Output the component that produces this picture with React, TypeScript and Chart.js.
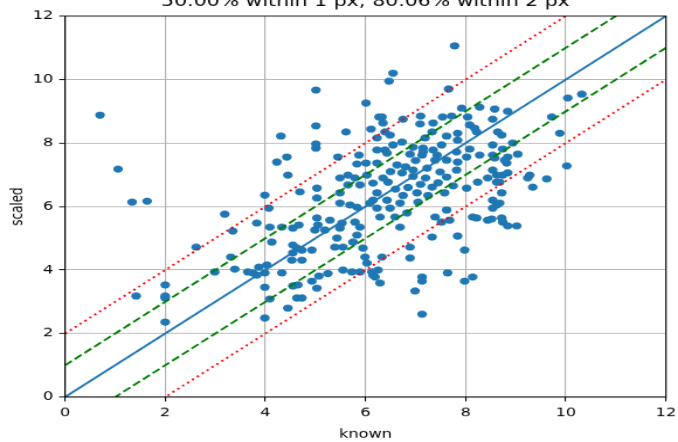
import React, { useEffect, useRef } from "react";
import { Chart, registerables } from "chart.js";

Chart.register(...registerables);

// ---- data ----
const known: number[] = [
  0.70, 1.06, 1.34, 1.64, 1.42, 2.00, 2.00, 2.00, 2.00, 2.62, 3.19, 3.35, 3.83, 3.31, 2.99, 3.39, 3.65, 3.83, 3.87,
  5.01, 6.01, 5.01, 4.31, 5.61, 6.11, 6.27, 5.01, 5.01, 4.43, 4.23, 5.45, 5.87, 5.83, 6.01, 6.23,
  7.78, 6.55, 6.47, 7.66, 7.92, 8.28, 8.58, 8.84, 6.33, 6.75, 7.10, 7.54, 7.72, 8.04, 8.54, 7.09, 7.35, 6.35, 6.39,
  6.73, 6.23, 6.49, 7.33, 7.62, 7.84, 7.84, 8.08, 8.18, 8.22, 8.64, 8.54, 7.19, 7.52, 6.95, 7.15, 7.35, 6.39, 6.55,
  6.89, 7.13, 7.43, 7.82, 8.08, 8.74, 8.54, 8.84, 6.43, 7.15, 7.39, 7.62, 7.84, 8.02, 8.28, 8.58, 8.82, 6.23, 6.63,
  6.73, 6.95, 7.23, 7.49, 7.62, 7.82, 6.35, 6.45, 6.15, 7.33, 8.24, 8.44, 8.62, 8.74, 8.02, 7.03, 7.58, 7.05, 6.23,
  6.15, 6.43, 6.23, 6.49, 6.69, 6.29, 6.59, 6.83, 7.62, 7.39, 7.52, 7.68, 8.14, 8.22, 8.44, 8.72, 8.74, 8.54, 8.62,
  6.69, 7.33, 7.84, 7.98, 6.89, 6.33, 6.89, 6.25, 7.13, 7.64, 8.14, 6.19, 6.29, 7.13, 6.99, 7.98, 7.13,
  10.04, 10.32, 9.72, 9.88, 8.72, 8.94, 9.04, 8.78, 10.02, 8.54, 8.84, 9.28, 9.24, 9.62, 8.62, 8.68, 9.34, 8.72,
  8.68, 8.54, 8.52, 8.84, 9.02,
  4.45, 5.49, 5.65, 5.79, 6.03, 5.89, 5.65, 5.03, 4.69, 3.99, 5.03, 5.49, 5.49, 5.69, 5.83, 6.09, 4.07, 4.09, 4.33,
  4.55, 4.67, 5.03, 5.05, 5.29, 5.53, 5.49, 4.99, 5.19, 5.79, 5.89, 4.13, 4.55, 4.63, 4.73, 4.55, 4.93, 5.43, 5.39,
  5.55, 5.75, 5.95, 5.83, 4.53, 4.73, 4.03, 3.75, 3.99, 4.33, 5.07, 5.25, 5.55, 6.13, 6.03, 5.99,
  3.99, 4.09, 3.99, 4.55, 4.65, 4.63, 4.73, 4.45, 4.93, 5.03, 5.73, 5.89, 6.15,
  6.60, 6.85, 6.95, 7.20, 7.10, 6.75, 7.25, 6.50, 6.80, 7.00, 7.45, 7.75,
];
const scaled: number[] = [
  8.88, 7.18, 6.14, 6.17, 3.18, 3.53, 3.18, 3.12, 2.36, 4.72, 5.76, 5.23, 5.48, 4.41, 3.94, 4.03, 3.94, 3.84, 4.09,
  9.67, 9.26, 8.54, 8.22, 8.35, 8.44, 8.82, 7.97, 7.84, 7.56, 7.40, 7.56, 7.62, 7.34, 7.37, 7.78,
  11.06, 10.20, 9.95, 9.70, 9.10, 9.13, 9.07, 9.00, 8.82, 8.75, 8.85, 8.82, 8.85, 8.82, 8.75, 8.60, 8.63, 8.63, 8.35,
  8.03, 8.16, 8.25, 8.35, 8.22, 8.31, 8.09, 8.57, 8.47, 8.35, 8.35, 7.94, 8.16, 7.94, 7.87, 7.84, 7.78, 7.78, 7.94,
  7.65, 7.62, 7.62, 7.72, 7.81, 7.81, 7.62, 7.56, 7.68, 7.72, 7.46, 7.46, 7.40, 7.56, 7.62, 7.53, 7.37, 7.37, 7.31,
  7.06, 7.15, 7.21, 7.09, 6.93, 7.15, 6.90, 6.77, 6.74, 6.61, 6.77, 6.90, 6.77, 6.99, 6.58, 6.43, 6.43, 6.14, 6.43,
  6.20, 6.20, 5.95, 5.95, 6.11, 5.67, 5.67, 5.80, 5.89, 5.67, 5.51, 5.57, 5.67, 5.64, 5.57, 5.64, 5.51, 6.20, 6.05,
  5.35, 5.04, 5.07, 4.63, 4.72, 4.41, 4.38, 4.00, 3.78, 3.91, 3.78, 3.78, 3.59, 3.65, 3.34, 3.65, 2.61,
  9.42, 9.54, 8.82, 8.31, 8.25, 8.00, 7.65, 7.46, 7.28, 7.15, 7.06, 6.99, 6.90, 6.87, 6.99, 6.77, 6.61, 6.43,
  6.11, 5.95, 5.61, 5.39, 5.39,
  6.99, 6.90, 6.99, 6.90, 6.99, 6.68, 6.68, 6.58, 6.46, 6.36, 6.27, 6.43, 6.11, 6.05, 5.98, 6.11, 5.95, 5.35, 5.35,
  5.32, 5.42, 5.64, 5.42, 5.57, 5.48, 5.32, 5.26, 5.26, 5.51, 5.35, 4.88, 4.79, 4.69, 4.63, 4.54, 4.63, 5.01, 4.72,
  4.72, 4.88, 4.69, 5.10, 4.31, 4.31, 4.16, 3.91, 3.91, 3.91, 3.81, 3.89, 4.00, 3.94, 4.22, 4.41,
  3.46, 3.09, 2.49, 3.50, 3.53, 3.12, 3.12, 2.80, 3.65, 3.43, 3.94, 3.94, 3.84,
  6.55, 6.60, 6.95, 6.90, 6.70, 6.35, 6.35, 7.10, 7.25, 7.45, 6.75, 6.65,
];
const axisTicks: number[] = [0, 2, 4, 6, 8, 10, 12];
const refX: number[] = [0, 12];
const greenOffsets: number[] = [1, -1];
const redOffsets: number[] = [2, -2];
const titleText = "50.00% within 1 px; 80.06% within 2 px";
const xLabel = "known";
const yLabel = "scaled";

// ---- layout (bitmap is stretched to the page size) ----
const BW = 580, BH = 528;
const PW = 678, PH = 454;

const framePlugin = {
  id: "frame",
  afterDatasetsDraw(chart: any) {
    const { ctx, chartArea } = chart;
    ctx.save();
    ctx.strokeStyle = "#000";
    ctx.lineWidth = 1.1;
    ctx.strokeRect(chartArea.left, chartArea.top, chartArea.right - chartArea.left, chartArea.bottom - chartArea.top);
    ctx.restore();
  },
};

export default function App() {
  const ref = useRef<HTMLCanvasElement | null>(null);
  useEffect(() => {
    if (!ref.current) return;
    const pts = known.map((x, i) => ({ x, y: scaled[i] }));
    const lineDs = (off: number, color: string, dash: number[]) => ({
      type: "line" as const,
      data: refX.map((x) => ({ x, y: x + off })),
      borderColor: color,
      borderWidth: 2.08,
      borderDash: dash,
      borderCapStyle: "butt" as const,
      pointRadius: 0,
      showLine: true,
      fill: false,
      order: 0,
    });
    const font = { family: "DejaVu Sans", size: 13.9 };
    const chart = new Chart(ref.current, {
      type: "scatter",
      data: {
        datasets: [
          {
            data: pts,
            backgroundColor: "#1f77b4",
            borderWidth: 0,
            pointRadius: 4.17,
            order: 2,
          } as any,
          { ...lineDs(0, "#1f77b4", []) },
          ...greenOffsets.map((o) => lineDs(o, "#008000", [7.7, 3.3])),
          ...redOffsets.map((o) => lineDs(o, "#ff0000", [2.08, 3.44])),
        ],
      },
      options: {
        responsive: false,
        devicePixelRatio: 1,
        animation: false,
        events: [],
        layout: { padding: { left: 0, right: 10.3, top: 0, bottom: 0 } },
        plugins: {
          legend: { display: false },
          tooltip: { enabled: false },
          title: {
            display: true,
            fullSize: false,
            text: titleText,
            color: "#000",
            font: { family: "DejaVu Sans", size: 17.5, weight: "normal" },
            padding: { top: 5.8, bottom: 5.8 },
          },
        },
        scales: {
          x: {
            type: "linear",
            min: 0,
            max: 12,
            afterFit: (s: any) => { s.height = 52.3; s.paddingLeft = 0; s.paddingRight = 0; },
            afterBuildTicks: (s: any) => { s.ticks = axisTicks.map((v) => ({ value: v })); },
            ticks: { color: "#000", font, padding: 5 },
            grid: { color: "#b0b0b0", lineWidth: 1.1, tickColor: "#000", tickLength: 5 },
            border: { color: "#000", width: 1.1 },
            title: { display: true, text: xLabel, color: "#000", font, padding: { top: 0, bottom: 0.4 } },
          },
          y: {
            type: "linear",
            min: 0,
            max: 12,
            afterFit: (s: any) => { s.width = 55.6; s.paddingTop = 0; s.paddingBottom = 0; },
            afterBuildTicks: (s: any) => { s.ticks = axisTicks.map((v) => ({ value: v })); },
            ticks: { color: "#000", font, padding: 5 },
            grid: { color: "#b0b0b0", lineWidth: 1.1, tickColor: "#000", tickLength: 5 },
            border: { color: "#000", width: 1.1 },
            title: { display: true, text: yLabel, color: "#000", font, padding: { top: 7, bottom: 0 } },
          },
        },
      } as any,
      plugins: [framePlugin],
    });
    return () => chart.destroy();
  }, []);
  return (
    <canvas
      ref={ref}
      width={BW}
      height={BH}
      style={{ position: "absolute", left: 0, top: -12, width: PW + "px", height: PH + "px" }}
    />
  );
}
